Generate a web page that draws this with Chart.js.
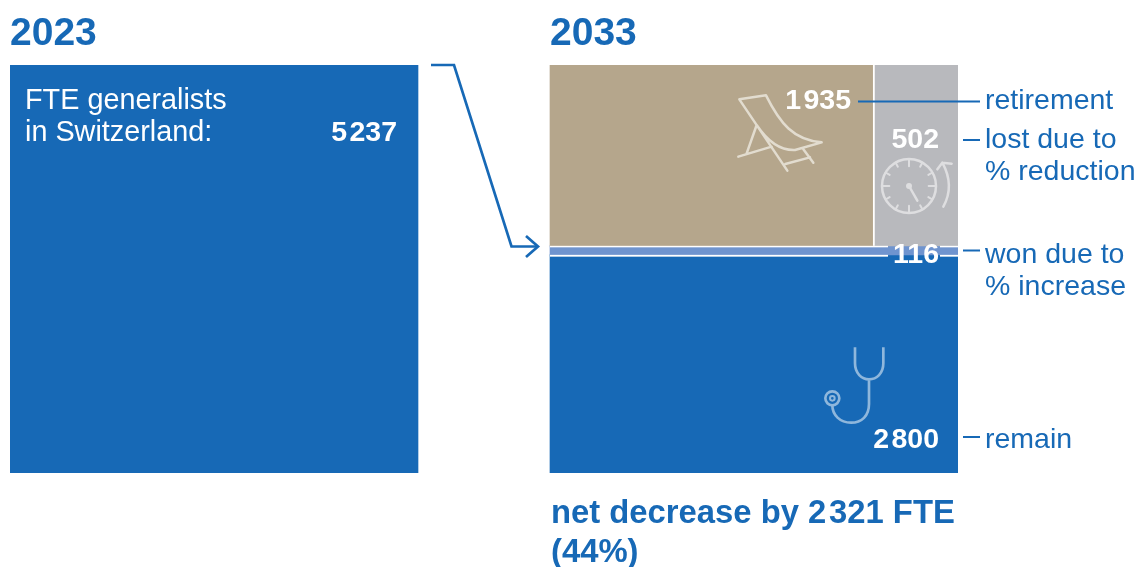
<!DOCTYPE html>
<html lang="en">
<head>
<meta charset="utf-8">
<title>FTE generalists in Switzerland</title>
<script src="https://cdn.jsdelivr.net/npm/chart.js@4/dist/chart.umd.min.js"></script>
<style>
  html, body { margin: 0; padding: 0; background: #fff; }
  canvas { display: block; }
</style>
</head>
<body>
<canvas id="chartFte" width="1137" height="567"></canvas>
<script>
'use strict';

// ── data ────────────────────────────────────────────────────────

var years      = ['2023', '2033'];
var fte2023    = [5237];
var retirement = [1935];
var lostPct    = [502];
var wonPct     = [116];
var remain     = [2800];
var netDecrease = [2321];
var netPercent  = [44];

var total = fte2023[0];
var gapRatio = 132 / 408;   // space between the two squares, in square widths
var start2033 = total * (1 + gapRatio);
var bandTop = remain[0] + wonPct[0];
var retirementWidth = total * retirement[0] / (retirement[0] + lostPct[0]);
var lostWidth = total - retirementWidth;

var BLUE = '#1769b6';
var FONT = '"Liberation Sans", Arial, sans-serif';

function sep(n) {
  // thin gap as thousands separator
  return String(n).replace(/\B(?=(\d{3})+$)/g, '\u200a');
}

function widthPx(w) {
  return function (ctx) {
    var x = ctx.chart.scales.x;
    return x.getPixelForValue(w) - x.getPixelForValue(0);
  };
}

function rectSet(label, color, left, width, lo, hi) {
  return {
    label: label,
    stack: 'all',
    backgroundColor: color,
    borderWidth: 0,
    barThickness: widthPx(width),
    data: [{ x: left + width / 2, y: [lo, hi] }]
  };
}

// ── drawing helpers ─────────────────────────────────────────────

function line(ctx, pts, color, width) {
  ctx.strokeStyle = color;
  ctx.lineWidth = width;
  ctx.beginPath();
  ctx.moveTo(pts[0][0], pts[0][1]);
  for (var i = 1; i < pts.length; i++) ctx.lineTo(pts[i][0], pts[i][1]);
  ctx.stroke();
}

function text(ctx, str, x, y, font, color, align) {
  ctx.font = font;
  ctx.fillStyle = color;
  ctx.textAlign = align || 'left';
  ctx.textBaseline = 'alphabetic';
  ctx.fillText(str, x, y);
}

function drawChair(ctx) {
  ctx.save();
  ctx.translate(700, 60);
  ctx.scale(1 / 3, 1 / 3);
  ctx.strokeStyle = '#e2dccf';
  ctx.lineWidth = 7.5;
  ctx.lineCap = 'round';
  ctx.lineJoin = 'round';
  ctx.beginPath();
  ctx.moveTo(262, 332);
  ctx.lineTo(118, 118);
  ctx.lineTo(198, 106);
  ctx.bezierCurveTo(240, 190, 280, 240, 365, 247);
  ctx.lineTo(285, 270);
  ctx.bezierCurveTo(240, 272, 200, 240, 170, 195);
  ctx.lineTo(140, 280);
  ctx.moveTo(115, 290);
  ctx.lineTo(215, 260);
  ctx.moveTo(256, 312);
  ctx.lineTo(330, 292);
  ctx.moveTo(310, 268);
  ctx.lineTo(340, 308);
  ctx.stroke();
  ctx.restore();
}

function drawClock(ctx) {
  ctx.save();
  ctx.translate(700, 60);
  ctx.scale(1 / 3, 1 / 3);
  ctx.strokeStyle = '#dedee0';
  ctx.fillStyle = '#dedee0';
  ctx.lineWidth = 7.5;
  ctx.lineCap = 'round';
  ctx.lineJoin = 'round';
  var cx = 627, cy = 378, r = 81;
  ctx.beginPath();
  ctx.arc(cx, cy, r, 0, Math.PI * 2);
  ctx.stroke();
  ctx.lineWidth = 6;
  ctx.beginPath();
  for (var i = 0; i < 12; i++) {
    var a = i * Math.PI / 6;
    var inner = i % 3 === 0 ? r - 22 : r - 14;
    ctx.moveTo(cx + Math.cos(a) * inner, cy + Math.sin(a) * inner);
    ctx.lineTo(cx + Math.cos(a) * r, cy + Math.sin(a) * r);
  }
  ctx.stroke();
  ctx.lineWidth = 7.5;
  ctx.beginPath();
  ctx.moveTo(cx, cy);
  ctx.lineTo(652, 422);
  ctx.stroke();
  ctx.beginPath();
  ctx.arc(cx, cy, 9, 0, Math.PI * 2);
  ctx.fill();
  // turning arrow beside the dial
  ctx.beginPath();
  ctx.moveTo(730, 440);
  ctx.bezierCurveTo(755, 395, 750, 350, 727, 308);
  ctx.moveTo(712, 328);
  ctx.lineTo(727, 308);
  ctx.lineTo(755, 311);
  ctx.stroke();
  ctx.restore();
}

function drawStethoscope(ctx) {
  ctx.save();
  ctx.translate(800, 330);
  ctx.scale(1 / 3, 1 / 3);
  ctx.strokeStyle = '#8fb7dc';
  ctx.lineWidth = 8;
  ctx.lineCap = 'butt';
  ctx.beginPath();
  ctx.moveTo(165, 52);
  ctx.lineTo(165, 100);
  ctx.bezierCurveTo(165, 130, 185, 148, 207, 148);
  ctx.bezierCurveTo(230, 148, 250, 130, 250, 100);
  ctx.lineTo(250, 52);
  ctx.moveTo(207, 148);
  ctx.lineTo(207, 222);
  ctx.bezierCurveTo(207, 258, 185, 278, 153, 278);
  ctx.bezierCurveTo(120, 278, 97, 255, 97, 226);
  ctx.stroke();
  ctx.beginPath();
  ctx.arc(97, 205, 21, 0, Math.PI * 2);
  ctx.stroke();
  ctx.lineWidth = 6;
  ctx.beginPath();
  ctx.arc(97, 205, 7, 0, Math.PI * 2);
  ctx.stroke();
  ctx.restore();
}

// ── labels, leader lines, pictograms ────────────────────────────

var annotations = {
  id: 'annotations',
  afterDatasetsDraw: function (chart) {
    var ctx = chart.ctx;
    var stripBar = chart.getDatasetMeta(3).data[0];
    var stripTop = stripBar.y, stripBottom = stripBar.base;
    ctx.save();

    // white seams above and below the strip, open behind its number
    ctx.fillStyle = '#fff';
    ctx.fillRect(550, stripTop, 338, 1.5);
    ctx.fillRect(940, stripTop, 18, 1.5);
    ctx.fillRect(550, stripBottom, 338, 1.8);
    ctx.fillRect(940, stripBottom, 18, 1.8);
    // divider between the two reasons for leaving
    var splitX = chart.getDatasetMeta(2).data[0].x - chart.getDatasetMeta(2).data[0].width / 2;
    ctx.fillRect(splitX - 1, 65, 1.8, stripTop - 65);

    drawChair(ctx);
    drawClock(ctx);
    drawStethoscope(ctx);

    text(ctx, years[0], 10, 44.5, 'bold 39px ' + FONT, BLUE);
    text(ctx, years[1], 550, 44.5, 'bold 39px ' + FONT, BLUE);

    var reg = '28.5px ' + FONT, bold = 'bold 28.5px ' + FONT;
    text(ctx, 'FTE generalists', 25, 109, '28.8px ' + FONT, '#fff');
    text(ctx, 'in Switzerland:', 25, 141, '28.8px ' + FONT, '#fff');
    text(ctx, sep(fte2023[0]), 397, 141, bold, '#fff', 'right');

    text(ctx, sep(retirement[0]), 851, 109, bold, '#fff', 'right');
    text(ctx, sep(lostPct[0]), 939, 148, bold, '#fff', 'right');
    text(ctx, sep(wonPct[0]), 939, 263, bold, '#fff', 'right');
    text(ctx, sep(remain[0]), 939, 447.5, bold, '#fff', 'right');

    line(ctx, [[858, 101.5], [980, 101.5]], BLUE, 2);
    line(ctx, [[963, 140], [980, 140]], BLUE, 2);
    line(ctx, [[963, 250.5], [980, 250.5]], BLUE, 2);
    line(ctx, [[963, 437], [980, 437]], BLUE, 2);

    text(ctx, 'retirement', 985, 109, reg, BLUE);
    text(ctx, 'lost due to', 985, 148, reg, BLUE);
    text(ctx, '% reduction', 985, 180, reg, BLUE);
    text(ctx, 'won due to', 985, 263, reg, BLUE);
    text(ctx, '% increase', 985, 295, reg, BLUE);
    text(ctx, 'remain', 985, 448, reg, BLUE);

    // arrow from the first square to the second
    ctx.lineJoin = 'miter';
    line(ctx, [[431, 65], [454, 65], [511.5, 246.5], [538, 246.5]], BLUE, 2.7);
    line(ctx, [[526, 236], [538, 246.5], [526, 257]], BLUE, 2.7);

    var foot = 'bold 32.8px ' + FONT;
    text(ctx, 'net decrease by ' + sep(netDecrease[0]) + ' FTE', 551, 522.5, foot, BLUE);
    text(ctx, '(' + netPercent[0] + '%)', 551, 561.5, foot, BLUE);

    ctx.restore();
  }
};

// ── chart ───────────────────────────────────────────────────────

new Chart(document.getElementById('chartFte').getContext('2d'), {
  type: 'bar',
  data: {
    datasets: [
      rectSet('FTE 2023', BLUE, 0, total, 0, total),
      rectSet('retirement', '#b5a68c', start2033, retirementWidth, bandTop, total),
      rectSet('lost due to % reduction', '#b8b9bd', start2033 + retirementWidth, lostWidth, bandTop, total),
      rectSet('won due to % increase', '#6f94cf', start2033, total, remain[0], bandTop),
      rectSet('remain', BLUE, start2033, total, 0, remain[0])
    ]
  },
  options: {
    responsive: false,
    animation: false,
    layout: { padding: { left: 10, right: 179, top: 65, bottom: 94 } },
    plugins: { legend: { display: false }, tooltip: { enabled: false }, title: { display: false } },
    scales: {
      x: { type: 'linear', display: false, offset: false, min: 0, max: start2033 + total, grid: { display: false } },
      y: { type: 'linear', display: false, stacked: false, min: 0, max: total, grid: { display: false } }
    }
  },
  plugins: [annotations]
});
</script>
</body>
</html>
